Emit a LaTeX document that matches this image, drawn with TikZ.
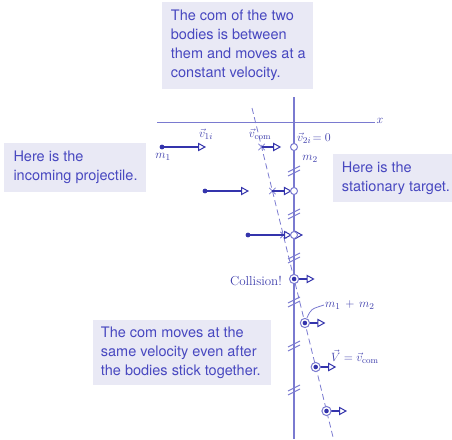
\documentclass[tikz,border=0pt]{standalone}
\usepackage{fontspec}
\newfontfamily\boxfont{TeX Gyre Heros}
\usetikzlibrary{arrows.meta,calc}
\definecolor{axisc}{RGB}{122,122,208}
\definecolor{vecc}{RGB}{52,52,172}
\definecolor{txtc}{RGB}{72,72,192}
\definecolor{labc}{RGB}{62,62,172}
\definecolor{boxc}{RGB}{233,233,245}
\begin{document}
\begin{tikzpicture}[x=1pt,y=-1pt,
  boxbg/.style={fill=boxc, draw=none, inner sep=0pt, anchor=north west},
  boxtxt/.style={text=txtc, font=\boxfont\fontsize{14.5}{19}\selectfont,
    align=left, inner sep=0pt, anchor=west},
  vec/.style={draw=vecc, line width=2pt,
    -{Triangle[open, fill=white, length=8pt, width=8.5pt, line width=1pt]}},
  axisline/.style={draw=axisc, line width=1pt},
  vaxis/.style={draw=axisc, line width=1.6pt},
  brk/.style={draw=axisc, line width=1pt},
  comline/.style={draw=axisc, line width=0.8pt, dash pattern=on 6pt off 3.5pt},
  crossm/.style={draw=axisc, line width=0.8pt},
  lab/.style={text=labc, font=\fontsize{12.5}{14}\selectfont, inner sep=1pt},
  tgt/.style={draw=axisc, line width=1pt, fill=white},
  dotm/.style={fill=vecc},
]
\useasboundingbox (0,0) rectangle (452,439);

% text boxes
\node[boxbg, minimum width=150.6pt, minimum height=86.6pt] (com) at (161.7,1.7) {};
\node[boxtxt] (comtxt) at ($(com.west)+(9,0)$)
  {The com of the two\\bodies is between\\them and moves at a\\constant velocity.};
\node[boxbg, minimum width=142pt, minimum height=49pt] (inc) at (4,142.7) {};
\node[boxtxt] (inctxt) at ($(inc.west)+(9.3,0)$)
  {Here is the\\incoming projectile.};
\node[boxbg, minimum width=126pt, minimum height=47.7pt] (stat) at (332.7,154) {};
\node[boxtxt] (stattxt) at ($(stat.west)+(9,0)$)
  {Here is the\\stationary target.};
\node[boxbg, minimum width=178.7pt, minimum height=65.7pt] (after) at (92.3,319.3) {};
\node[boxtxt] (aftertxt) at ($(after.west)+(8.4,0)$)
  {The com moves at the\\same velocity even after\\the bodies stick together.};

% axes
\coordinate (xa) at (157,122);
\coordinate (xb) at (375,122);
\coordinate (ya) at (294,97);
\coordinate (yb) at (294,439);
\draw[axisline] (xa) -- (xb);
\node[lab] (xl) at (380,121) {$x$};
\draw[vaxis] (ya) -- (yb);

% com trajectory
\coordinate (ca) at (252,108);
\coordinate (cb) at (333,437);
\draw[comline] (ca) -- (cb);

% break marks
\foreach \c in {171,214,258,302,346,390}{
  \draw[brk] (288,\c+1) -- (300,\c-5);
  \draw[brk] (288,\c+5) -- (300,\c-1);
}

% rows before collision
\foreach \r/\mx/\cx in {1/162/261.6, 2/205/272.4, 3/248/283.5}{
  \pgfmathsetmacro{\yy}{147+44*(\r-1)}
  \coordinate (m1\r) at (\mx,\yy);
  \coordinate (m1t\r) at (\mx+44,\yy);
  \coordinate (c\r) at (\cx,\yy);
  \coordinate (ct\r) at (\cx+19.5,\yy);
  \coordinate (m2\r) at (294,\yy);
  \draw[crossm] (\cx-3.2,\yy-3.2) -- (\cx+3.2,\yy+3.2) (\cx-3.2,\yy+3.2) -- (\cx+3.2,\yy-3.2);
  \draw[vec] (c\r) -- (ct\r);
  \draw[vec] (m1\r) -- (m1t\r);
  \fill[dotm] (m1\r) circle (2.4pt);
  \draw[tgt] (m2\r) circle (3.5pt);
}

% rows after collision
\foreach \r/\cx in {4/294.1, 5/304.9, 6/315.7, 7/326.5}{
  \pgfmathsetmacro{\yy}{147+44*(\r-1)}
  \coordinate (b\r) at (\cx,\yy);
  \coordinate (bt\r) at (\cx+20.5,\yy);
  \draw[vec] (b\r) -- (bt\r);
  \draw[tgt] (b\r) circle (4.6pt);
  \fill[dotm] (b\r) circle (2.3pt);
}

% labels
\node[lab] (v1il) at (206,134) {$\vec v_{1i}$};
\node[lab] (m1l) at (163,157) {$m_1$};
\node[lab] (vcoml) at (260,134) {$\vec v_{\rm com}$};
\node[lab, anchor=west] (v2il) at (296,138) {$\vec v_{2i}\!=0$};
\node[lab] (m2l) at (310,159) {$m_2$};
\node[lab, anchor=east, font=\fontsize{13}{15}\selectfont] (coll) at (283,281) {Collision!};
\node[lab, anchor=west] (m12l) at (324,305) {$m_1 \,+\, m_2$};
\node[lab, anchor=west] (Vl) at (330,357) {$\vec V = \vec v_{\rm com}$};
\draw[axisc, line width=0.8pt] ($(b5)+(2,-5)$) .. controls (311,309) .. (m12l.west);
\end{tikzpicture}
\end{document}
